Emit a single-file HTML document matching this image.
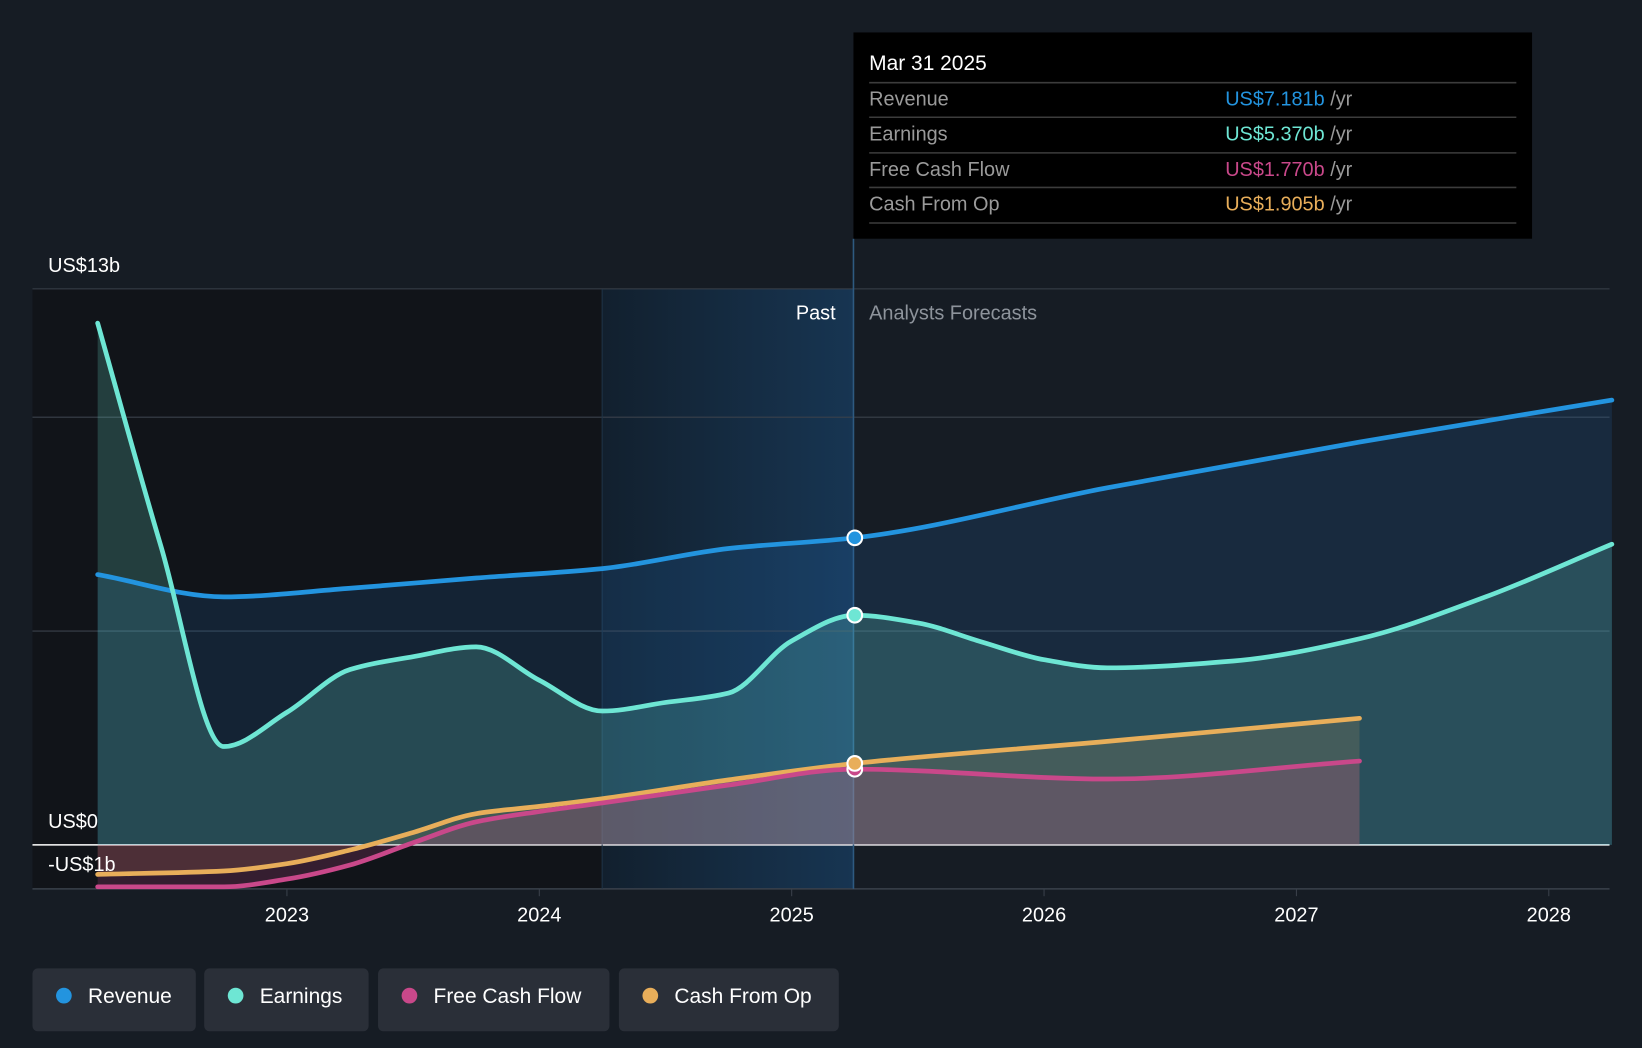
<!DOCTYPE html>
<html><head><meta charset="utf-8"><style>
html,body{margin:0;padding:0;background:#161c24;}
svg{display:block;font-family:"Liberation Sans",sans-serif;}
</style></head><body>
<svg id="chart" width="1642" height="1048" viewBox="0 0 1568 1001" preserveAspectRatio="none" xmlns="http://www.w3.org/2000/svg">
<defs>
<linearGradient id="hl" x1="0" x2="1" y1="0" y2="0"><stop offset="0" stop-color="#12202e"/><stop offset="1" stop-color="#173552"/></linearGradient>
</defs>
<rect width="1568" height="1001" fill="#161c24"/>
<rect x="31" y="276" width="544" height="573" fill="#111419"/>
<rect x="575" y="276" width="240" height="573" fill="url(#hl)"/>
<g id="grid"></g>
<g id="areas"></g>
<g id="lines"></g>
<g id="labels"></g>
</svg>
<script>
const revX=[2022.25,2022.75,2023.25,2023.75,2024.25,2024.75,2025.25,2026.25,2027.25,2028.25];
const revenue=[6.32,5.8,6.0,6.24,6.46,6.93,7.18,8.35,9.42,10.4];
const earnX=[2022.25,2022.5,2022.75,2023,2023.25,2023.5,2023.75,2024,2024.25,2024.5,2024.75,2025,2025.25,2025.5,2025.75,2026,2026.25,2026.75,2027.25,2027.75,2028.25];
const earnings=[12.2,7.0,2.3,3.1,4.1,4.4,4.63,3.85,3.13,3.33,3.55,4.77,5.37,5.19,4.75,4.33,4.14,4.3,4.82,5.8,7.03];
const cashX=[2022.25,2022.75,2023,2023.25,2023.5,2023.75,2024,2024.25,2024.75,2025.25,2026.25,2027.25];
const fcf=[-0.98,-0.98,-0.8,-0.47,0.05,0.54,0.78,0.98,1.4,1.77,1.54,1.96];
const cfo=[-0.69,-0.61,-0.44,-0.12,0.29,0.73,0.9,1.08,1.52,1.905,2.42,2.96];
const yTicks=[0,5,10,13];
const xTicks=[2023,2024,2025,2026,2027,2028];
const NS="http://www.w3.org/2000/svg";
const X=t=>274+(t-2023)*241;
const Y=v=>807-v*40.85;
function el(tag,attrs,parent,text){const e=document.createElementNS(NS,tag);for(const k in attrs)e.setAttribute(k,attrs[k]);if(text!==undefined)e.textContent=text;document.getElementById(parent).appendChild(e);return e;}
function smooth(xs,vs){const p=xs.map((x,i)=>[X(x),Y(vs[i])]);const n=p.length;
 const dx=[],s=[];for(let i=0;i<n-1;i++){dx.push(p[i+1][0]-p[i][0]);s.push((p[i+1][1]-p[i][1])/dx[i]);}
 const m=[s[0]];for(let i=1;i<n-1;i++){if(s[i-1]*s[i]<=0)m.push(0);else{const w1=2*dx[i]+dx[i-1],w2=dx[i]+2*dx[i-1];m.push((w1+w2)/(w1/s[i-1]+w2/s[i]));}}m.push(s[n-2]);
 let d="M"+p[0][0]+","+p[0][1];
 for(let i=0;i<n-1;i++){const h=dx[i]/3;d+=" C"+(p[i][0]+h)+","+(p[i][1]+m[i]*h)+" "+(p[i+1][0]-h)+","+(p[i+1][1]-m[i+1]*h)+" "+p[i+1][0]+","+p[i+1][1];}
 return d;}
yTicks.forEach(v=>{const g=el('line',{x1:31,x2:1537,y1:Y(v),y2:Y(v),stroke:v===0?'#ffffff':'#3a414b','stroke-width':v===0?1.5:1},'grid');
 
 });
const bl=el('line',{x1:31,x2:1537,y1:849,y2:849,stroke:'#3a414b','stroke-width':1.5},'grid');


xTicks.forEach(t=>{const tk=el('line',{x1:X(t),x2:X(t),y1:849,y2:856,stroke:'#3a414b'},'grid');
 
 
 const tl=el('text',{x:X(t),y:880,fill:'#ffffff','font-size':19,'text-anchor':'middle'},'labels',String(t));
 
 });
const nowLine=el('line',{x1:815,x2:815,y1:228,y2:849,stroke:'#2e5a80','stroke-width':1.5},'grid');


const sepLine=el('line',{x1:575,x2:575,y1:276,y2:849,stroke:'#1f3446','stroke-width':1},'grid');


const series=[
 ['revenue',revX,revenue,'#2394df','rgba(35,120,200,0.16)'],
 ['earnings',earnX,earnings,'#6ee6d4','rgba(110,230,212,0.2)'],
 ['cash-from-op',cashX,cfo,'#e8ae5a','rgba(232,174,90,0.14)'],
 ['free-cash-flow',cashX,fcf,'#c9488a','rgba(201,72,138,0.2)']];
series.forEach(s=>{const d=smooth(s[1],s[2]);const x0=X(s[1][0]),x1=X(s[1][s[1].length-1]);
 const a=el('path',{d:d+" L"+x1+","+Y(0)+" L"+x0+","+Y(0)+" Z",fill:s[4]},'areas');
 
 
 const l=el('path',{d:d,fill:'none',stroke:s[3],'stroke-width':4.5,'stroke-linecap':'round'},'lines');
 
 });
[[revenue[6],'#2394df','revenue'],[earnings[12],'#6ee6d4','earnings'],[fcf[9],'#c9488a','free-cash-flow'],[cfo[9],'#e8ae5a','cash-from-op']].forEach(m=>{
 const c=el('circle',{cx:X(2025.25),cy:Y(m[0]),r:7,fill:m[1],stroke:'#ffffff','stroke-width':2},'lines');
 
 });
</script>
<script>
(function(){
const NS="http://www.w3.org/2000/svg";const svg=document.getElementById('chart');
function add(tag,attrs,text,name,inter){const e=document.createElementNS(NS,tag);for(const k in attrs)e.setAttribute(k,attrs[k]);if(text)e.textContent=text;
 
 
 svg.appendChild(e);return e;}
add('text',{x:46,y:260,fill:'#fff','font-size':19},'US$13b','y-label-13b','false');
add('text',{x:46,y:791,fill:'#fff','font-size':19},'US$0','y-label-0','false');
add('text',{x:46,y:832,fill:'#fff','font-size':19},'-US$1b','y-label-neg1b','false');
add('text',{x:798,y:305,fill:'#fff','font-size':19,'text-anchor':'end'},'Past','past-label','false');
add('text',{x:830,y:305,fill:'#8d939b','font-size':19},'Analysts Forecasts','forecast-label','false');
add('rect',{x:815,y:31,width:648,height:197,fill:'#000'},null,'tooltip-box','false');
add('text',{x:830,y:67,fill:'#fff','font-size':20},'Mar 31 2025','tooltip-date','false');
[79,112,146,179,213].forEach((y,i)=>add('line',{x1:830,x2:1448,y1:y,y2:y,stroke:'#3c3c3c','stroke-width':1.5},null,'tooltip-divider-'+i,'false'));
const rows=[['Revenue','US$7.181b','#2394df',101],['Earnings','US$5.370b','#6ee6d4',134],['Free Cash Flow','US$1.770b','#c9488a',168],['Cash From Op','US$1.905b','#e8ae5a',201]];
rows.forEach(r=>{const k=r[0].toLowerCase().replace(/ /g,'-');
 add('text',{x:830,y:r[3],fill:'#9a9a9a','font-size':19},r[0],'tooltip-'+k+'-label','false');
 const t=add('text',{x:1170,y:r[3],fill:r[2],'font-size':19},r[1],'tooltip-'+k+'-value','false');
 const ts=document.createElementNS(NS,'tspan');ts.setAttribute('fill','#9a9a9a');ts.textContent=' /yr';t.appendChild(ts);});
const leg=[['Revenue','#2394df',31,156],['Earnings','#6ee6d4',195,157],['Free Cash Flow','#c9488a',361,221],['Cash From Op','#e8ae5a',591,210]];
leg.forEach(l=>{const k=l[0].toLowerCase().replace(/ /g,'-');
 add('rect',{x:l[2],y:925,width:l[3],height:60,rx:5,fill:'#2a2f38'},null,'legend-'+k,'true');
 add('circle',{cx:l[2]+30,cy:951,r:7.5,fill:l[1]},null,'legend-'+k+'-dot','false');
 add('text',{x:l[2]+53,y:958,fill:'#fff','font-size':20},l[0],'legend-'+k+'-label','false');});
})();
</script>
</body></html>
